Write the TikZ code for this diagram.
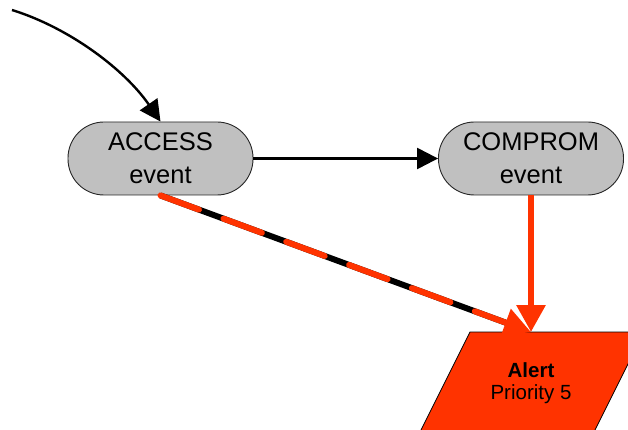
\documentclass[tikz,border=0pt]{standalone}
\usepackage{fontspec}
\setmainfont{Liberation Sans}
\usetikzlibrary{arrows.meta}
\definecolor{alertred}{RGB}{255,51,0}
\definecolor{eventgray}{RGB}{192,192,192}
\begin{document}
\begin{tikzpicture}[x=1pt,y=-1pt,
  eventbox/.style={draw=black!85, line width=0.9pt, fill=eventgray,
    rounded corners=36pt, minimum width=185pt, minimum height=73pt,
    align=center, inner sep=0pt, font=\fontsize{25.5}{33}\selectfont},
  blackflow/.style={line width=2.4pt, -{Triangle[length=21pt,width=21pt]}},
  redflow/.style={line width=6pt, alertred, -{Triangle[length=27pt,width=28pt]}},
  alerttext/.style={align=center, inner sep=0pt, font=\fontsize{20.5}{22}\selectfont},
]
\useasboundingbox (0,0) rectangle (628,430);

% event nodes
\node[eventbox] (acc)  at (160.5,158.5) {ACCESS\\event};
\node[eventbox] (comp) at (531,158.5) {COMPROM\\event};

% alert parallelogram, cut off by the page edges
\begin{scope}
  \clip (0,0) rectangle (628,430);
  \fill[alertred, draw=black, line width=0.8pt]
    (470,332) -- (644,332) -- (590,440) -- (416,440) -- cycle;
\end{scope}
\node[alerttext] (alert) at (531,383) {\textbf{Alert}\\Priority 5};
\coordinate (alerttop) at (531,332);

% incoming flow
\coordinate (start) at (12,10);
\draw[blackflow] (start) .. controls (70,28) and (125,70) .. (acc.north);

% event to event
\draw[blackflow] (acc.east) -- (comp.west);

% flows into the alert
\draw[redflow] (comp.south) -- (alerttop);
\draw[line width=6pt, black, shorten >=24pt] (acc.south) -- (alerttop);
\draw[redflow, dash pattern=on 41pt off 26pt, line cap=round] (acc.south) -- (alerttop);
\end{tikzpicture}
\end{document}
